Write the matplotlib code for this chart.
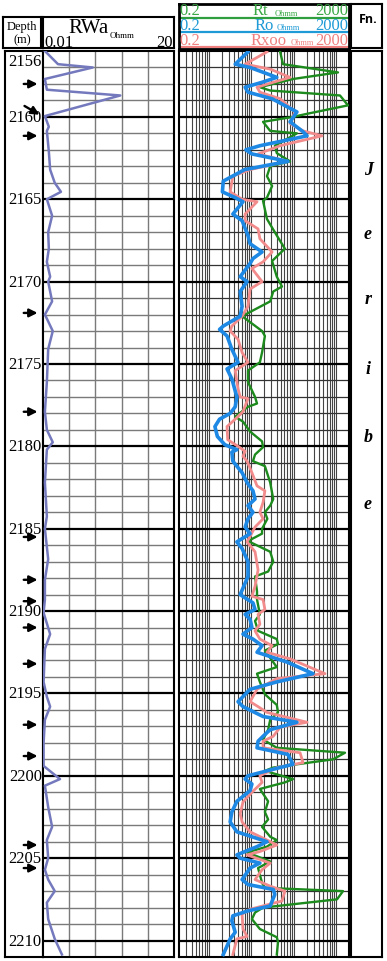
import matplotlib
matplotlib.use('Agg')
import matplotlib.pyplot as plt
import numpy as np

W, H = 387, 962
SERIF = ['Liberation Serif', 'DejaVu Serif']

# depth scale labels and marked depths (arrows)
depth_labels = [2156, 2160, 2165, 2170, 2175, 2180, 2185, 2190, 2195, 2200, 2205, 2210]
arrow_depths = [2158.0, 2161.15, 2171.9, 2177.9, 2185.5, 2188.1, 2189.4, 2191.0,
                2193.2, 2196.9, 2198.8, 2204.2, 2205.6]
diag_arrow = (2159.25, 2159.95)

# formation letters (Jeribe)
fn_letters = ['J', 'e', 'r', 'i', 'b', 'e']
fn_depths = [2163.2, 2167.1, 2171.05, 2175.3, 2179.4, 2183.5]

# apparent water resistivity (depth, value)
rwa = [(2156.0, 0.3), (2156.8, 2.3), (2157.0, 7.6), (2157.7, 0.3), (2158.35, 0.6),
       (2158.7, 11.8), (2159.95, 0.3), (2160.6, 0.9), (2160.85, 0.6), (2162.1, 0.9),
       (2163.2, 1.1), (2164.0, 1.8), (2164.55, 2.75), (2165.0, 0.6), (2166.0, 1.4),
       (2167.0, 0.8), (2168.0, 0.9), (2168.8, 0.6), (2169.7, 1.1), (2170.0, 0.8),
       (2171.2, 1.4), (2172.0, 0.3), (2173.0, 1.5), (2174.1, 0.8), (2176.1, 0.6),
       (2177.9, 0.3), (2179.0, 0.6), (2179.75, 1.5), (2180.2, 0.6), (2182.2, 0.3),
       (2184.25, 0.6), (2185.0, 0.3), (2186.85, 0.8), (2188.1, 0.3), (2189.3, 0.3),
       (2190.1, 0.1), (2191.4, 1.1), (2192.3, 0.3), (2194.3, 0.1), (2195.2, 0.6),
       (2195.8, 1.1), (2196.6, 0.3), (2198.0, 0.1), (2199.4, 0.1), (2200.2, 2.6),
       (2200.6, 0.3), (2201.9, 0.8), (2203.1, 1.4), (2203.9, 0.6), (2205.0, 0.8),
       (2205.7, 0.3), (2206.3, 0.8), (2207.0, 1.8), (2207.7, 0.6), (2208.7, 0.8),
       (2209.9, 1.8), (2210.85, 2.9)]

# true resistivity Rt (depth, ohmm)
rt = [(2156.05, 48), (2156.8, 56), (2157.3, 1100), (2157.7, 96), (2158.2, 16), (2158.4, 28),
      (2158.7, 1228), (2159.3, 1893), (2159.8, 217), (2160.0, 96), (2160.3, 19), (2160.85, 28),
      (2161.0, 119), (2161.75, 36), (2162.2, 40), (2162.7, 82), (2163.0, 28), (2163.6, 23.5),
      (2164.2, 31), (2164.9, 23.5), (2165.1, 19), (2166.2, 23.5), (2167.2, 40), (2168.0, 62),
      (2168.75, 31), (2169.7, 40), (2170.3, 53), (2170.6, 33), (2171.2, 28), (2172.1, 6.1),
      (2173.0, 18), (2173.3, 21), (2174.3, 18), (2174.9, 16), (2175.4, 8.4), (2176.1, 8.4),
      (2177.0, 12.3), (2177.4, 13.7), (2177.6, 8.4), (2178.2, 4.2), (2178.5, 6.4), (2179.1, 9.4),
      (2179.7, 18), (2180.05, 19), (2180.5, 12.3), (2180.9, 11), (2181.2, 21), (2182.2, 28),
      (2183.2, 33), (2183.6, 28), (2184.0, 21), (2184.4, 24), (2185.0, 18), (2185.3, 18),
      (2185.75, 8.4), (2186.4, 28), (2187.0, 33), (2187.6, 25), (2187.9, 12.3), (2188.8, 13.7),
      (2189.3, 13.7), (2190.2, 16), (2190.6, 12.3), (2191.2, 14.5), (2191.7, 40), (2192.0, 42.7),
      (2192.4, 21), (2193.4, 40), (2193.8, 13.7), (2194.3, 16), (2195.05, 21), (2195.7, 40),
      (2196.15, 42.7), (2196.6, 28), (2197.2, 25), (2197.8, 19), (2198.3, 40), (2198.6, 1611),
      (2199.0, 841), (2199.5, 33), (2199.7, 21), (2200.2, 96), (2200.4, 62), (2200.8, 16),
      (2201.55, 25), (2202.2, 21), (2202.65, 25), (2203.1, 18), (2203.7, 28), (2203.9, 40),
      (2204.3, 23.5), (2204.65, 8), (2205.2, 28), (2205.6, 14.5), (2206.5, 18), (2206.8, 21),
      (2207.0, 1446), (2207.5, 1045), (2208.0, 19), (2208.3, 12.3), (2208.7, 10.4), (2209.3, 16),
      (2209.8, 40), (2210.1, 42.7), (2210.85, 40)]

# Ro (depth, ohmm)
ro = [(2156.05, 8.4), (2156.8, 4.2), (2157.0, 9.4), (2157.6, 40), (2157.9, 18), (2158.2, 7.2),
      (2158.5, 8.4), (2158.9, 31), (2159.7, 119), (2160.3, 82), (2160.9, 166), (2161.15, 206),
      (2161.75, 16), (2162.0, 7.5), (2162.25, 10.4), (2162.7, 73), (2163.2, 7), (2163.9, 2.2),
      (2164.55, 2.1), (2164.9, 4.2), (2165.15, 6.4), (2165.9, 3.7), (2166.3, 6.1), (2167.2, 8.4),
      (2167.7, 9.4), (2168.2, 18), (2168.6, 11), (2168.9, 9.4), (2169.7, 5.5), (2170.0, 8),
      (2170.6, 5.5), (2171.5, 6.1), (2172.1, 5.5), (2172.7, 2.2), (2172.9, 1.8), (2173.3, 2.7),
      (2174.1, 3.5), (2174.9, 4.9), (2175.3, 2.7), (2175.9, 3.5), (2177.0, 4.6), (2177.6, 4.2),
      (2178.0, 3.2), (2178.35, 1.8), (2178.8, 1.4), (2179.4, 1.6), (2179.9, 2.4), (2180.2, 4.6),
      (2180.35, 3.5), (2180.9, 3.7), (2181.6, 6.1), (2182.2, 8), (2182.7, 11), (2183.2, 12.3),
      (2183.6, 8.4), (2184.0, 11), (2184.4, 8.4), (2184.9, 7.2), (2185.3, 9.4), (2185.8, 4.6),
      (2186.2, 6.1), (2187.0, 8.4), (2187.9, 8.4), (2189.0, 5.5), (2189.2, 7.2), (2189.5, 11),
      (2189.9, 12.3), (2190.2, 7.2), (2190.5, 9.4), (2191.0, 10.4), (2191.4, 6.4), (2191.7, 11),
      (2192.1, 18), (2192.5, 13.7), (2193.1, 70), (2193.8, 284), (2194.3, 40), (2194.75, 9.4),
      (2195.5, 4.9), (2195.8, 6.4), (2196.1, 11), (2196.4, 19), (2196.75, 119), (2197.2, 28),
      (2197.6, 19), (2197.9, 14.5), (2198.3, 13.7), (2198.7, 73), (2199.3, 96), (2199.7, 23.5),
      (2200.0, 8.4), (2200.2, 7.2), (2200.5, 10.4), (2200.9, 9.4), (2201.55, 4.6), (2202.2, 3.5),
      (2202.8, 3.2), (2203.4, 4.6), (2203.7, 10.4), (2204.0, 23.5), (2204.3, 13.7), (2204.8, 4.6),
      (2205.0, 5.5), (2205.3, 16), (2205.6, 9.4), (2206.3, 6.1), (2206.6, 8.4), (2206.9, 33),
      (2207.2, 36), (2207.9, 28), (2208.2, 8.4), (2208.5, 3.7), (2208.8, 3.5), (2209.5, 4.2),
      (2209.9, 3.2), (2210.85, 2.2)]

# Rxoo (depth, ohmm)
rxoo = [(2156.05, 23.5), (2156.8, 7.2), (2157.1, 28), (2157.6, 82), (2157.9, 33), (2158.2, 13.7),
        (2158.5, 16), (2158.9, 48), (2159.7, 107), (2160.4, 82), (2160.85, 166), (2161.15, 463),
        (2161.75, 48), (2162.25, 14.5), (2162.7, 73), (2163.2, 9.4), (2163.6, 3.7), (2164.55, 3.2),
        (2165.0, 6.1), (2165.15, 13.7), (2165.9, 7.2), (2166.3, 7.2), (2166.8, 14.5), (2167.4, 16),
        (2168.2, 31), (2168.8, 19), (2169.2, 10.4), (2170.0, 18), (2170.45, 9.4), (2171.5, 8.4),
        (2172.1, 6.1), (2172.7, 3.5), (2173.0, 3.2), (2173.5, 4.9), (2174.3, 6.1), (2174.9, 8.4),
        (2175.4, 4.2), (2176.5, 4.9), (2177.0, 5.5), (2177.1, 8.4), (2177.9, 6.4), (2178.35, 4.2),
        (2178.8, 2.7), (2179.6, 2.8), (2180.0, 4.9), (2180.3, 7.2), (2180.6, 6.4), (2180.9, 8),
        (2181.6, 10.4), (2182.4, 13.7), (2182.7, 21), (2183.4, 19), (2184.0, 16), (2184.4, 19),
        (2184.9, 12.3), (2185.8, 8), (2186.4, 12.3), (2187.5, 14.5), (2188.5, 12.3), (2189.1, 10.4),
        (2189.3, 19), (2189.9, 21), (2190.2, 14.5), (2190.8, 16), (2191.2, 12.3), (2191.7, 16),
        (2192.1, 31), (2192.5, 23.5), (2192.9, 82), (2193.8, 545), (2194.1, 40), (2194.75, 13.7),
        (2195.5, 9.4), (2195.8, 14.5), (2196.15, 23.5), (2196.75, 206), (2197.05, 48), (2197.6, 33),
        (2197.9, 19), (2198.3, 19), (2198.6, 141), (2199.2, 166), (2199.5, 40), (2200.0, 16),
        (2200.4, 18), (2201.0, 10.4), (2201.6, 6.4), (2202.3, 5.5), (2202.8, 6.1), (2203.4, 9.4),
        (2203.9, 23.5), (2204.2, 40), (2204.6, 16), (2204.8, 8), (2205.3, 28), (2205.7, 18),
        (2206.3, 12.3), (2206.7, 28), (2207.0, 62), (2207.6, 53), (2208.1, 9.4), (2208.4, 6.1),
        (2209.3, 6.4), (2209.75, 8), (2209.9, 4.6), (2210.85, 3.7)]

fig = plt.figure(figsize=(W / 100, H / 100), dpi=100)
fig.patch.set_facecolor('white')


def add_box(x0, y0, x1, y1, lw=1.5):
    # axes placed from pixel coordinates of the reference
    ax = fig.add_axes([x0 / W, 1 - y1 / H, (x1 - x0) / W, (y1 - y0) / H])
    ax.tick_params(which='both', left=False, bottom=False, labelleft=False, labelbottom=False)
    for s in ax.spines.values():
        s.set_linewidth(lw)
        s.set_color('black')
    return ax


TOP, BOT = 2156, 2211

# ---- depth column
axd = add_box(5, 52, 43, 958)
axd.set_xlim(0, 1)
axd.set_ylim(BOT, TOP)
for d in depth_labels:
    yy = d + 0.6 if d == 2156 else d
    axd.text(0.97, yy, str(d), ha='right', va='center', fontsize=12, family=SERIF)
for d in arrow_depths:
    axd.annotate('', xy=(0.93, d), xytext=(0.42, d),
                 arrowprops=dict(arrowstyle='-|>', lw=1.7, color='black', mutation_scale=12))
axd.annotate('', xy=(0.97, diag_arrow[1]), xytext=(0.45, diag_arrow[0]),
             arrowprops=dict(arrowstyle='-|>', lw=1.7, color='black', mutation_scale=12))

# ---- RWa track
axr = add_box(43, 52, 174, 958)
axr.set_xlim(0.01, 20)
axr.set_ylim(BOT, TOP)
for v in np.linspace(0.01, 20, 6)[1:-1]:
    axr.axvline(v, color='#7a7a7a', lw=1.0, zorder=1)
for d in range(TOP + 1, BOT):
    if d % 5 == 0:
        axr.axhline(d, color='black', lw=1.6, zorder=1)
    else:
        axr.axhline(d, color='#7a7a7a', lw=1.0, zorder=1)
axr.plot([v for d, v in rwa], [d for d, v in rwa], color='#7479bd', lw=1.8, zorder=3)

# ---- resistivity track
axs = add_box(179, 52, 349, 958)
axs.set_xscale('log')
axs.set_xlim(0.2, 2000)
axs.set_ylim(BOT, TOP)
for n in range(-1, 4):
    for k in range(1, 10):
        v = k * 10.0 ** n
        if 0.2 < v < 2000:
            axs.axvline(v, color='#444444', lw=0.8, zorder=1)
for d in range(TOP + 1, BOT):
    if d % 5 == 0:
        axs.axhline(d, color='black', lw=1.6, zorder=1)
    else:
        axs.axhline(d, color='#333333', lw=0.9, zorder=1)
axs.plot([v for d, v in rt], [d for d, v in rt], color='#1c8a1c', lw=1.7, zorder=3)
axs.plot([v for d, v in rxoo], [d for d, v in rxoo], color='#f28c8c', lw=2.0, zorder=4)
axs.plot([v for d, v in ro], [d for d, v in ro], color='#1e88e5', lw=2.6, zorder=5)

# ---- formation column
axf = add_box(351, 52, 382, 958)
axf.set_xlim(0, 1)
axf.set_ylim(BOT, TOP)
for t, d in zip(fn_letters, fn_depths):
    axf.text(0.55, d, t, ha='center', va='center', fontsize=13, family=SERIF,
             fontweight='bold', style='italic')

# ---- headers
hd = add_box(3, 18, 41, 49)
hd.text(0.5, 0.71, 'Depth', ha='center', va='center', fontsize=9, family=SERIF)
hd.text(0.5, 0.29, '(m)', ha='center', va='center', fontsize=9, family=SERIF)

hr = add_box(43, 18, 174, 49)
hr.text(0.19, 0.66, 'RWa', ha='left', va='center', fontsize=15, family=SERIF)
hr.text(0.51, 0.43, 'Ohmm', ha='left', va='center', fontsize=6.5, family=SERIF)
hr.text(0.01, 0.18, '0.01', ha='left', va='center', fontsize=12, family=SERIF)
hr.text(0.99, 0.18, '20', ha='right', va='center', fontsize=12, family=SERIF)

hs = add_box(179, 5, 349, 50, lw=2)
hs.set_xlim(0, 1)
hs.set_ylim(0, 1)
rows = [('Rt', '#3aa845', '#2e9e3e', 0.86, 0.69, 0.435, 0.56),
        ('Ro', '#1e9ad6', '#1e9ad6', 0.53, 0.38, 0.447, 0.576),
        ('Rxoo', '#f08080', '#f08080', 0.2, 0.05, 0.42, 0.655)]
for name, tc, lc, ty, ly, nx, ox in rows:
    hs.text(0.005, ty, '0.2', ha='left', va='center', fontsize=12, family=SERIF, color=tc)
    hs.text(0.995, ty, '2000', ha='right', va='center', fontsize=12, family=SERIF, color=tc)
    hs.text(nx, ty, name, ha='left', va='center', fontsize=12, family=SERIF, color=tc)
    hs.text(ox, ty - 0.05, 'Ohmm', ha='left', va='center', fontsize=6, family=SERIF, color=tc)
    hs.plot([0, 1], [ly, ly], color=lc, lw=1.6)

hf = add_box(351, 5, 382, 49)
hf.text(0.55, 0.66, 'Fn.', ha='center', va='center', fontsize=9, fontweight='bold',
        family=['Open Sans', 'DejaVu Sans'])

fig.savefig('out.png', dpi=100, facecolor='white')
